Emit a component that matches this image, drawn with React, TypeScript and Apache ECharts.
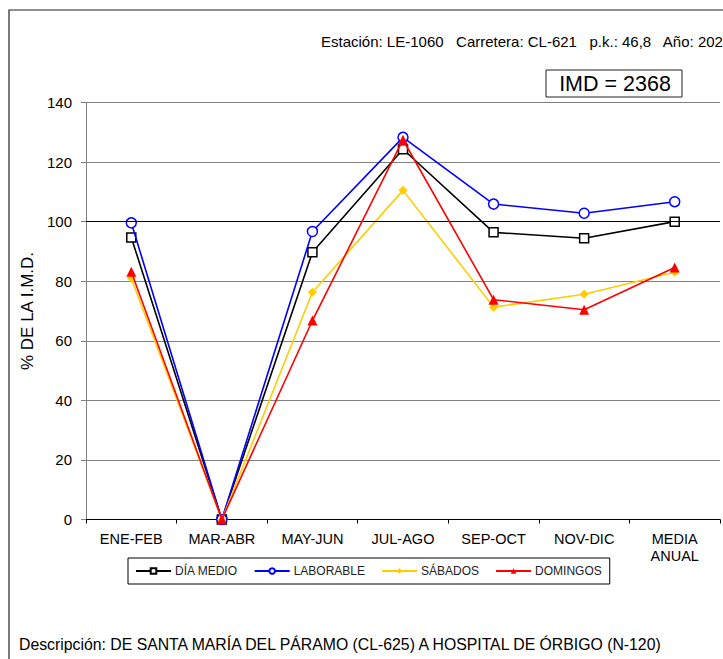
import React, { useEffect, useRef } from "react";
import * as echarts from "echarts";

const categories = ["ENE-FEB", "MAR-ABR", "MAY-JUN", "JUL-AGO", "SEP-OCT", "NOV-DIC", "MEDIA\nANUAL"];
const diaMedio = [94.7, 0, 89.7, 124.3, 96.4, 94.4, 100];
const laborable = [99.6, 0, 96.7, 128.3, 105.9, 102.8, 106.7];
const sabados = [81, 0, 76.3, 110.5, 71.3, 75.6, 83];
const domingos = [83.2, 0, 66.8, 127.5, 73.8, 70.4, 84.6];
const yTicks = { min: 0, max: 140, interval: 20 };

const FONT = "Arial, 'Liberation Sans', sans-serif";

export default function App() {
  const ref = useRef<HTMLDivElement>(null);
  useEffect(() => {
    if (!ref.current) return;
    const chart = echarts.init(ref.current, null, { renderer: "svg" });
    const option: any = {
      animation: false,
      backgroundColor: "#fff",
      textStyle: { fontFamily: FONT },
      grid: { left: 86, top: 102.5, width: 634, height: 417, containLabel: false },
      legend: {
        left: 128,
        top: 558,
        orient: "horizontal",
        padding: [7, 8, 7, 7],
        itemGap: 16,
        itemWidth: 35,
        itemHeight: 7,
        borderColor: "#000",
        borderWidth: 1,
        textStyle: { fontFamily: FONT, fontSize: 12, color: "#222", padding: [0, 0, 0, -1] },
        data: ["DÍA MEDIO", "LABORABLE", "SÁBADOS", "DOMINGOS"],
      },
      xAxis: {
        type: "category",
        data: categories,
        boundaryGap: true,
        axisLine: { lineStyle: { color: "#000", width: 1 } },
        axisTick: { show: true, length: 4, interval: 0, lineStyle: { color: "#000" } },
        axisLabel: { interval: 0, margin: 11, fontSize: 14.5, color: "#000", fontFamily: FONT, lineHeight: 17 },
        splitLine: { show: false },
      },
      yAxis: {
        type: "value",
        min: yTicks.min,
        max: yTicks.max,
        interval: yTicks.interval,
        name: "% DE LA I.M.D.",
        nameLocation: "middle",
        nameGap: 46,
        nameRotate: 90,
        nameTextStyle: { fontSize: 17, color: "#000", fontFamily: FONT },
        axisLine: { show: true, lineStyle: { color: "#808080", width: 1 } },
        axisTick: { show: true, length: 5, lineStyle: { color: "#808080" } },
        axisLabel: { margin: 14, fontSize: 15, color: "#000", fontFamily: FONT },
        splitLine: { show: true, lineStyle: { color: "#808080", width: 1 } },
      },
      graphic: [
        {
          type: "rect",
          shape: { x: 9, y: 10, width: 900, height: 900 },
          style: { fill: "none", stroke: "#222", lineWidth: 1.2 },
          silent: true,
          z: 0,
        },
        {
          type: "text",
          x: 321,
          y: 41,
          style: {
            text: "Estación: LE-1060   Carretera: CL-621   p.k.: 46,8   Año: 2020",
            fontSize: 15,
            fontFamily: FONT,
            fill: "#000",
            verticalAlign: "middle",
          },
        },
        {
          type: "rect",
          shape: { x: 546, y: 70, width: 136, height: 27 },
          style: { fill: "#fff", stroke: "#222", lineWidth: 1 },
        },
        {
          type: "text",
          x: 615,
          y: 84,
          style: {
            text: "IMD = 2368",
            fontSize: 21.5,
            fontFamily: FONT,
            fill: "#000",
            align: "center",
            verticalAlign: "middle",
          },
        },
        {
          type: "text",
          x: 19,
          y: 644,
          style: {
            text: "Descripción: DE SANTA MARÍA DEL PÁRAMO (CL-625) A HOSPITAL DE ÓRBIGO (N-120)",
            fontSize: 15.8,
            fontFamily: FONT,
            fill: "#000",
            verticalAlign: "middle",
          },
        },
      ],
      series: [
        {
          name: "DÍA MEDIO",
          type: "line",
          data: diaMedio,
          symbol: "rect",
          symbolSize: 9,
          lineStyle: { color: "#000", width: 1.6 },
          itemStyle: { color: "#fff", borderColor: "#000", borderWidth: 1.5 },
          markLine: {
            silent: true,
            symbol: ["none", "none"],
            label: { show: false },
            lineStyle: { color: "#000", type: "solid", width: 1 },
            data: [{ yAxis: 100 }],
          },
          z: 2,
        },
        {
          name: "LABORABLE",
          type: "line",
          data: laborable,
          symbol: "circle",
          symbolSize: 10,
          lineStyle: { color: "#0000FF", width: 1.6 },
          itemStyle: { color: "#fff", borderColor: "#0000FF", borderWidth: 1.5 },
          z: 3,
        },
        {
          name: "SÁBADOS",
          type: "line",
          data: sabados,
          symbol: "diamond",
          symbolSize: 9,
          lineStyle: { color: "#FFCC00", width: 1.6 },
          itemStyle: { color: "#FFCC00" },
          z: 4,
        },
        {
          name: "DOMINGOS",
          type: "line",
          data: domingos,
          symbol: "triangle",
          symbolSize: 10,
          lineStyle: { color: "#FF0000", width: 1.6 },
          itemStyle: { color: "#FF0000" },
          z: 5,
        },
      ],
    };
    chart.setOption(option);
    return () => chart.dispose();
  }, []);
  return (
    <div
      ref={ref}
      style={{ position: "absolute", left: 0, top: 0, width: 723, height: 659 }}
    />
  );
}
